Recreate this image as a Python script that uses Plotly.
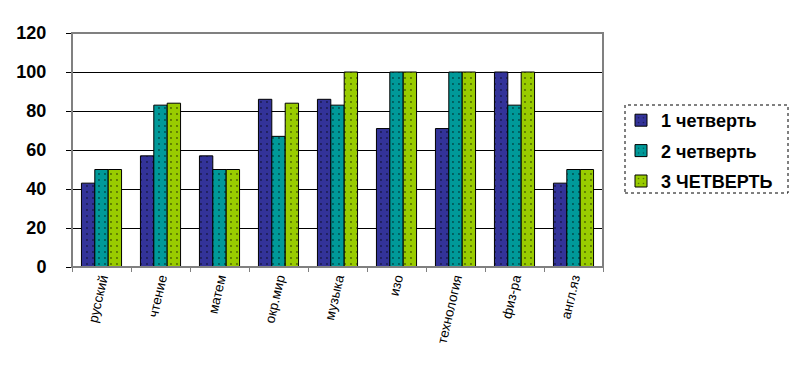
import plotly.graph_objects as go

categories = ["русский", "чтение", "матем", "окр.мир", "музыка", "изо", "технология", "физ-ра", "англ.яз"]
q1 = [43, 57, 57, 86, 86, 71, 71, 100, 43]
q2 = [50, 83, 50, 67, 83, 100, 100, 83, 50]
q3 = [50, 84, 50, 84, 100, 100, 100, 100, 50]
series_names = ["1 четверть", "2 четверть", "3 ЧЕТВЕРТЬ"]
colors = ["#333399", "#009999", "#99CC00"]
y_ticks = [0, 20, 40, 60, 80, 100, 120]

fig = go.Figure()
for i, (name, vals, col) in enumerate(zip(series_names, [q1, q2, q3], colors)):
    fig.add_trace(go.Bar(
        x=categories, y=vals, name=name, legendgroup=f"g{i}",
        marker=dict(color=col, line=dict(color="black", width=1),
                    pattern=dict(shape=".", fgcolor="black", size=6, solidity=0.08, fillmode="overlay")),
    ))

font = "Liberation Sans, Arial, sans-serif"
W, H = 790, 372
L, T, R, B = 64, 25, 195, 113
pw = W - L - R
ph = H - T - B
fig.update_layout(
    width=W, height=H,
    margin=dict(l=L, r=R, t=T, b=B),
    paper_bgcolor="white", plot_bgcolor="white",
    barmode="group", bargap=0.32, bargroupgap=0,
    showlegend=True,
    legend=dict(x=(621 - 8 - L) / pw, y=1 - (102 - 8 - T) / ph, xanchor="left", yanchor="top",
                font=dict(family=font, size=18, color="black", weight="bold"),
                bgcolor="rgba(0,0,0,0)", borderwidth=0, tracegroupgap=4,
                itemwidth=30),
    xaxis=dict(type="category", tickangle=-77, automargin=False,
               tickfont=dict(family=font, size=13.5, color="black"),
               showgrid=False, ticks="outside", tickson="boundaries", ticklen=4,
               tickcolor="#808080", showline=False),
    yaxis=dict(range=[0, 120], tickvals=y_ticks, automargin=False,
               tickfont=dict(family=font, size=18, color="black", weight="bold"),
               showgrid=True, gridcolor="black", gridwidth=1,
               ticks="outside", ticklen=5, tickcolor="black", ticklabelstandoff=16,
               showline=False, zeroline=False),
    shapes=[
        dict(type="rect", xref="paper", yref="paper", x0=0, x1=1, y0=0, y1=1,
             line=dict(color="#808080", width=2)),
        dict(type="rect", xref="paper", yref="paper",
             x0=(625 - 8 - L) / pw, x1=(788 - 8 - L) / pw,
             y0=1 - (193 - 8 - T) / ph, y1=1 - (105 - 8 - T) / ph,
             line=dict(color="black", width=1, dash="dot")),
    ],
)

fig.write_html("out.html")
